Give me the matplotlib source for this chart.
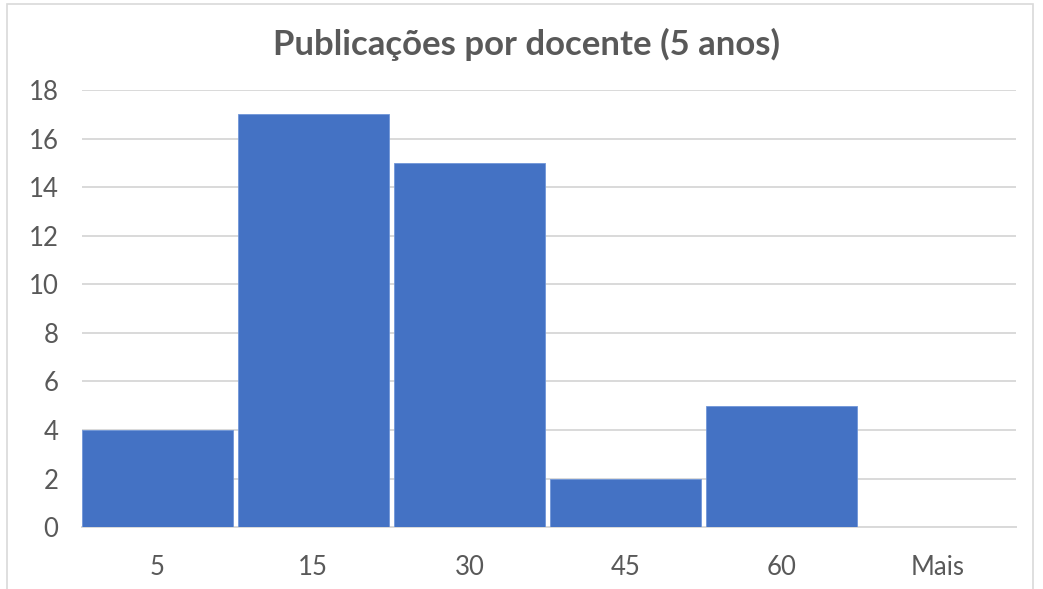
import matplotlib.pyplot as plt
from matplotlib.patches import Rectangle

categorias = ['5', '15', '30', '45', '60', 'Mais']
frequencia = [4, 17, 15, 2, 5, 0]
yticks = [0, 2, 4, 6, 8, 10, 12, 14, 16, 18]

plt.rcParams['font.family'] = ['Lato', 'DejaVu Sans']

fig = plt.figure(figsize=(10.43, 5.89), dpi=100)
ax = fig.add_axes([0.0786, 0.105, 0.8952, 0.742])

largura = 0.965
x = range(len(categorias))
ax.bar(x, frequencia, width=largura, color='#4472C4', edgecolor='#7096D8',
       linewidth=0.6, zorder=3)

ax.set_xlim(-largura / 2, len(categorias) - 0.5)
ax.set_ylim(0, 18)
ax.set_yticks(yticks)
ax.set_xticks(list(x))
ax.set_xticklabels(categorias)
ax.grid(axis='y', color='#D9D9D9', linewidth=1.4, zorder=0)
ax.tick_params(length=0, labelsize=18.5, colors='#595959')
ax.tick_params(axis='x', pad=20)
ax.tick_params(axis='y', pad=17)
for s in ['top', 'right', 'left']:
    ax.spines[s].set_visible(False)
ax.spines['bottom'].set_color('#D9D9D9')
ax.spines['bottom'].set_linewidth(1.4)

fig.text(0.505, 0.925, 'Publicações por docente (5 anos)', ha='center', va='center',
         fontsize=25, fontweight='bold', color='#595959')

# moldura do gráfico
fig.patches.append(Rectangle((7 / 1043, -0.05), 1026 / 1043, 1 - 4 / 589 + 0.05,
                             transform=fig.transFigure, fill=False,
                             edgecolor='#D9D9D9', linewidth=1.2))

fig.savefig('out.png', dpi=100)
